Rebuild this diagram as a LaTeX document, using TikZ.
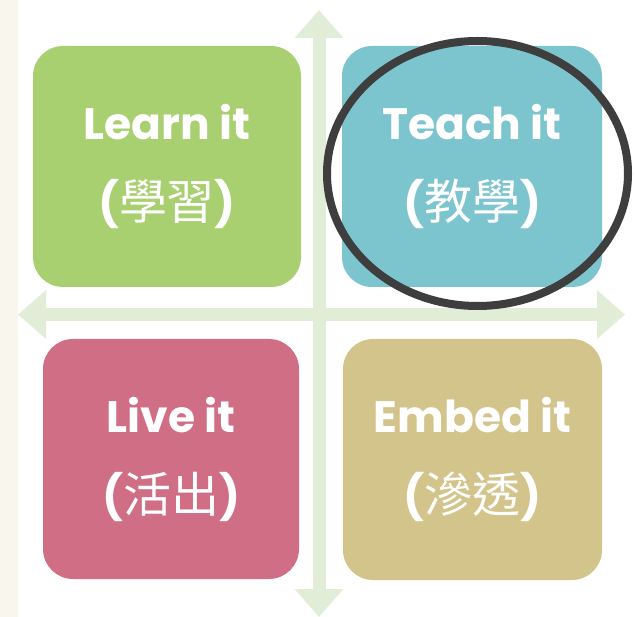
\documentclass[tikz,border=0pt]{standalone}
\usepackage{fontspec}
\setmainfont{Poppins}
\newfontfamily\cjk{Noto Sans CJK TC}
\usetikzlibrary{arrows.meta}
\definecolor{cream}{HTML}{F9F6EE}
\definecolor{axisgreen}{HTML}{E2EDD7}
\definecolor{learngreen}{HTML}{A9D070}
\definecolor{teachblue}{HTML}{7DC5CE}
\definecolor{livepink}{HTML}{D06E86}
\definecolor{embedsand}{HTML}{D3C48B}
\definecolor{ringgrey}{HTML}{3E3E3E}
\newcommand{\zh}[1]{{\cjk\mdseries\fontsize{48}{80}\selectfont #1}}
\tikzset{
  quad/.style={rounded corners=30pt, inner sep=0pt, text=white, align=center,
    font=\fontsize{44}{80}\selectfont\bfseries},
  axis/.style={line width=13pt, color=axisgreen,
    {Triangle[width=47pt,length=28pt]}-{Triangle[width=47pt,length=28pt]}},
  ring/.style={line width=8pt, color=ringgrey}
}

\begin{document}
\begin{tikzpicture}[x=1pt,y=-1pt]
			%%%%% START %%%%%
			
			\fill[white] (0, 0) rectangle (635, 617);
			\useasboundingbox (0, 0) rectangle (635, 617);
			\fill[cream] (0, 0) rectangle (18, 617);
			
			\coordinate (axtop) at (319, 10);
			\coordinate (axbot) at (319, 617);
			\coordinate (axleft) at (18, 314.5);
			\coordinate (axright) at (625, 314.5);
			\draw[axis] (axtop) -- (axbot);
			\draw[axis] (axleft) -- (axright);
			
			\node[quad, fill=learngreen, minimum width=268pt, minimum height=241pt] (learn) at (167, 166.5) {Learn it\\(\zh{學習})};
			\node[quad, fill=teachblue, minimum width=260pt, minimum height=241pt] (teach) at (472, 166.5) {Teach it\\(\zh{教學})};
			\node[quad, fill=livepink, minimum width=256pt, minimum height=240pt] (live) at (171, 459) {Live it\\(\zh{活出})};
			\node[quad, fill=embedsand, minimum width=259pt, minimum height=241pt] (embed) at (472.5, 459.5) {Embed it\\(\zh{滲透})};
			
			\draw[ring] (477.5, 173.5) ellipse [x radius=150.5, y radius=132.5];
			
			%%%%% END %%%%%
\end{tikzpicture}
\end{document}
